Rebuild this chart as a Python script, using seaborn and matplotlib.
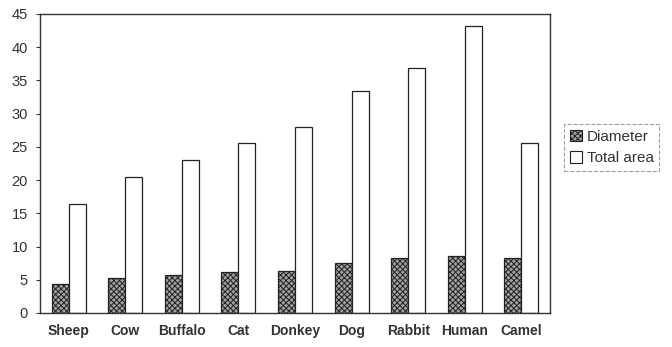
import matplotlib
matplotlib.use("Agg")
import matplotlib.pyplot as plt
from matplotlib.patches import Patch
import pandas as pd
import seaborn as sns

animals = ["Sheep", "Cow", "Buffalo", "Cat", "Donkey", "Dog", "Rabbit", "Human", "Camel"]
diameter = [4.4, 5.2, 5.7, 6.1, 6.3, 7.5, 8.2, 8.5, 8.2]
total_area = [16.4, 20.5, 23.0, 25.5, 28.0, 33.4, 36.9, 43.2, 25.6]
series_names = ["Diameter", "Total area"]
y_ticks = [0, 5, 10, 15, 20, 25, 30, 35, 40, 45]

df = pd.DataFrame({
    "animal": animals * 2,
    "value": diameter + total_area,
    "series": [series_names[0]] * len(animals) + [series_names[1]] * len(animals),
})

sns.set_theme(style="white")
plt.rcParams["font.family"] = ["Liberation Sans", "DejaVu Sans"]
plt.rcParams["hatch.linewidth"] = 0.7

fig = plt.figure(figsize=(6.72, 3.47), dpi=100)
ax = fig.add_axes([0.06, 0.098, 0.758, 0.862])

sns.barplot(data=df, x="animal", y="value", hue="series", order=animals,
            hue_order=series_names, palette=["#a0a0a0", "white"],
            width=0.6, saturation=1, edgecolor="#222222", linewidth=0.9,
            legend=False, ax=ax)

# dark stippled fill for the diameter bars
for bar in ax.containers[0]:
    bar.set_hatch("xxxxxx")
    bar.set_facecolor("#a0a0a0")

ax.set_ylim(0, 45)
ax.set_yticks(y_ticks)
ax.set_xlabel("")
ax.set_ylabel("")
ax.tick_params(axis="y", length=3, width=0.8, color="#333333", labelsize=10.5,
               left=True, pad=6)
ax.tick_params(axis="x", length=0, labelsize=10, pad=8)
for lab in ax.get_xticklabels():
    lab.set_fontweight("bold")
    lab.set_color("#333333")
for lab in ax.get_yticklabels():
    lab.set_color("#333333")
for s in ax.spines.values():
    s.set_visible(True)
    s.set_color("#333333")
    s.set_linewidth(1.0)

handles = [Patch(facecolor="#a0a0a0", edgecolor="#222222", hatch="xxxxxx", linewidth=0.8),
           Patch(facecolor="white", edgecolor="#222222", linewidth=0.8)]
leg = fig.legend(handles, series_names, loc="center left",
                 bbox_to_anchor=(0.84, 0.575), frameon=True, fontsize=11,
                 handlelength=0.8, handleheight=0.8, handletextpad=0.3,
                 borderpad=0.35, labelspacing=0.5, fancybox=False, borderaxespad=0)
leg.get_frame().set_linestyle("--")
leg.get_frame().set_edgecolor("#888888")
leg.get_frame().set_linewidth(0.8)
for t in leg.get_texts():
    t.set_color("#333333")

fig.savefig("out.png", dpi=100)
